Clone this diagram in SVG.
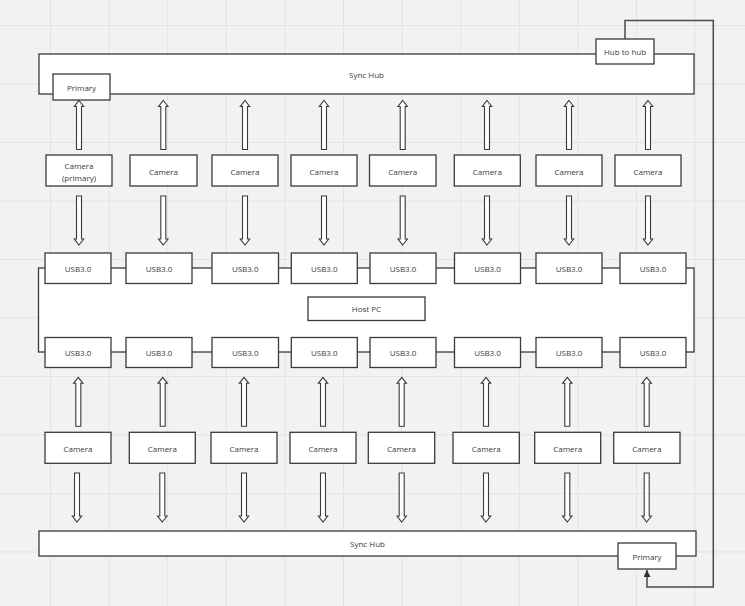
<svg xmlns="http://www.w3.org/2000/svg" xmlns:xlink="http://www.w3.org/1999/xlink" width="745" height="606" viewBox="0 0 745 606">
<style>
.box{fill:#ffffff;stroke:#3a3a3a;stroke-width:1.3}
.t{font-family:"Open Sans","Noto Sans",sans-serif;font-size:8px;fill:#3a3a3a;text-anchor:middle;dominant-baseline:central}
.arr{fill:#ffffff;stroke:#3a3a3a;stroke-width:1.1;stroke-linejoin:miter}
.link{fill:none;stroke:#4a4a4a;stroke-width:1.5}
</style>
<defs>
<pattern id="grid" patternUnits="userSpaceOnUse" x="50" y="25" width="58.6" height="58.5">
<path d="M0.5,0 V58.5 M0,0.5 H58.6" fill="none" stroke="#e3e3e3" stroke-width="1"/>
</pattern>
<path id="au" class="arr" d="M0,0 L4.7,6 L2.5,6 L2.5,49 L-2.5,49 L-2.5,6 L-4.7,6 Z"/>
<path id="ad" class="arr" d="M0,49 L4.7,43 L2.5,43 L2.5,0 L-2.5,0 L-2.5,43 L-4.7,43 Z"/>
<marker id="tri" viewBox="0 0 10 10" refX="10" refY="5" markerWidth="7" markerHeight="7" markerUnits="userSpaceOnUse" orient="auto">
<path d="M0,0 L10,5 L0,10 Z" fill="#333"/>
</marker>
</defs>
<rect x="0" y="0" width="745" height="606" fill="#f2f2f2"/>
<rect x="0" y="0" width="745" height="606" fill="url(#grid)"/>

<g id="host-pc">
<rect class="box" x="38.5" y="268" width="655.5" height="84"/>
<rect class="box" x="308" y="297" width="117" height="23.5"/>
<text class="t" x="366.5" y="308.7">Host PC</text>
</g>

<g id="sync-hub-top">
<rect class="box" x="39" y="54" width="655" height="40"/>
<text class="t" x="366.5" y="74">Sync Hub</text>
</g>
<g id="hub-to-hub">
<rect class="box" x="596" y="39" width="58" height="25"/>
<text class="t" x="625" y="51.5">Hub to hub</text>
</g>
<g id="primary-top">
<rect class="box" x="53" y="74" width="57" height="26"/>
<text class="t" x="81.5" y="87.5">Primary</text>
</g>

<g id="sync-hub-bottom">
<rect class="box" x="39" y="531" width="657" height="25"/>
<text class="t" x="367.5" y="543.7">Sync Hub</text>
</g>
<g id="primary-bottom">
<rect class="box" x="618" y="543" width="58" height="26"/>
<text class="t" x="647" y="556">Primary</text>
</g>

<g id="cam-top-1"><rect class="box" x="46" y="155" width="66" height="31"/><text class="t" x="79" y="165.3">Camera</text><text class="t" x="79" y="177.3">(primary)</text></g>
<g id="cam-top-2"><rect class="box" x="130" y="155" width="67" height="31"/><text class="t" x="163.5" y="171">Camera</text></g>
<g id="cam-top-3"><rect class="box" x="212" y="155" width="66" height="31"/><text class="t" x="245" y="171">Camera</text></g>
<g id="cam-top-4"><rect class="box" x="291" y="155" width="66" height="31"/><text class="t" x="324" y="171">Camera</text></g>
<g id="cam-top-5"><rect class="box" x="369.5" y="155" width="66.5" height="31"/><text class="t" x="402.7" y="171">Camera</text></g>
<g id="cam-top-6"><rect class="box" x="454.3" y="155" width="66" height="31"/><text class="t" x="487.3" y="171">Camera</text></g>
<g id="cam-top-7"><rect class="box" x="536" y="155" width="66" height="31"/><text class="t" x="569" y="171">Camera</text></g>
<g id="cam-top-8"><rect class="box" x="615" y="155" width="66" height="31"/><text class="t" x="648" y="171">Camera</text></g>

<g id="usb-top-1"><rect class="box" x="45" y="253" width="66" height="30.5"/><text class="t" x="78" y="268.5">USB3.0</text></g>
<g id="usb-top-2"><rect class="box" x="126" y="253" width="66" height="30.5"/><text class="t" x="159" y="268.5">USB3.0</text></g>
<g id="usb-top-3"><rect class="box" x="212" y="253" width="66.5" height="30.5"/><text class="t" x="245.2" y="268.5">USB3.0</text></g>
<g id="usb-top-4"><rect class="box" x="291.3" y="253" width="66" height="30.5"/><text class="t" x="324.3" y="268.5">USB3.0</text></g>
<g id="usb-top-5"><rect class="box" x="370" y="253" width="66" height="30.5"/><text class="t" x="403" y="268.5">USB3.0</text></g>
<g id="usb-top-6"><rect class="box" x="454.5" y="253" width="66" height="30.5"/><text class="t" x="487.5" y="268.5">USB3.0</text></g>
<g id="usb-top-7"><rect class="box" x="536" y="253" width="66" height="30.5"/><text class="t" x="569" y="268.5">USB3.0</text></g>
<g id="usb-top-8"><rect class="box" x="620" y="253" width="66" height="30.5"/><text class="t" x="653" y="268.5">USB3.0</text></g>

<g id="usb-bottom-1"><rect class="box" x="45" y="337.5" width="66" height="30"/><text class="t" x="78" y="352.5">USB3.0</text></g>
<g id="usb-bottom-2"><rect class="box" x="126" y="337.5" width="66" height="30"/><text class="t" x="159" y="352.5">USB3.0</text></g>
<g id="usb-bottom-3"><rect class="box" x="212" y="337.5" width="66.5" height="30"/><text class="t" x="245.2" y="352.5">USB3.0</text></g>
<g id="usb-bottom-4"><rect class="box" x="291.3" y="337.5" width="66" height="30"/><text class="t" x="324.3" y="352.5">USB3.0</text></g>
<g id="usb-bottom-5"><rect class="box" x="370" y="337.5" width="66" height="30"/><text class="t" x="403" y="352.5">USB3.0</text></g>
<g id="usb-bottom-6"><rect class="box" x="454.5" y="337.5" width="66" height="30"/><text class="t" x="487.5" y="352.5">USB3.0</text></g>
<g id="usb-bottom-7"><rect class="box" x="536" y="337.5" width="66" height="30"/><text class="t" x="569" y="352.5">USB3.0</text></g>
<g id="usb-bottom-8"><rect class="box" x="620" y="337.5" width="66" height="30"/><text class="t" x="653" y="352.5">USB3.0</text></g>

<g id="cam-bottom-1"><rect class="box" x="45" y="432.3" width="66" height="31"/><text class="t" x="78" y="448">Camera</text></g>
<g id="cam-bottom-2"><rect class="box" x="129.3" y="432.3" width="66" height="31"/><text class="t" x="162.3" y="448">Camera</text></g>
<g id="cam-bottom-3"><rect class="box" x="211" y="432.3" width="66" height="31"/><text class="t" x="244" y="448">Camera</text></g>
<g id="cam-bottom-4"><rect class="box" x="290" y="432.3" width="66" height="31"/><text class="t" x="323" y="448">Camera</text></g>
<g id="cam-bottom-5"><rect class="box" x="368.3" y="432.3" width="66.4" height="31"/><text class="t" x="401.5" y="448">Camera</text></g>
<g id="cam-bottom-6"><rect class="box" x="453" y="432.3" width="66.3" height="31"/><text class="t" x="486.2" y="448">Camera</text></g>
<g id="cam-bottom-7"><rect class="box" x="534.7" y="432.3" width="66" height="31"/><text class="t" x="567.7" y="448">Camera</text></g>
<g id="cam-bottom-8"><rect class="box" x="613.7" y="432.3" width="66.3" height="31"/><text class="t" x="646.8" y="448">Camera</text></g>

<g id="connectors">
<use xlink:href="#au" x="79" y="100.5"/>
<use xlink:href="#au" x="163.3" y="100.5"/>
<use xlink:href="#au" x="245" y="100.5"/>
<use xlink:href="#au" x="324" y="100.5"/>
<use xlink:href="#au" x="402.7" y="100.5"/>
<use xlink:href="#au" x="487" y="100.5"/>
<use xlink:href="#au" x="569" y="100.5"/>
<use xlink:href="#au" x="648" y="100.5"/>

<use xlink:href="#ad" x="79" y="196"/>
<use xlink:href="#ad" x="163.3" y="196"/>
<use xlink:href="#ad" x="245" y="196"/>
<use xlink:href="#ad" x="324" y="196"/>
<use xlink:href="#ad" x="402.7" y="196"/>
<use xlink:href="#ad" x="487" y="196"/>
<use xlink:href="#ad" x="569" y="196"/>
<use xlink:href="#ad" x="648" y="196"/>

<use xlink:href="#au" x="78.3" y="377.3"/>
<use xlink:href="#au" x="162.7" y="377.3"/>
<use xlink:href="#au" x="244" y="377.3"/>
<use xlink:href="#au" x="323" y="377.3"/>
<use xlink:href="#au" x="401.7" y="377.3"/>
<use xlink:href="#au" x="486" y="377.3"/>
<use xlink:href="#au" x="567.3" y="377.3"/>
<use xlink:href="#au" x="646.7" y="377.3"/>

<use xlink:href="#ad" x="77" y="473"/>
<use xlink:href="#ad" x="162.3" y="473"/>
<use xlink:href="#ad" x="244" y="473"/>
<use xlink:href="#ad" x="323" y="473"/>
<use xlink:href="#ad" x="401.7" y="473"/>
<use xlink:href="#ad" x="486" y="473"/>
<use xlink:href="#ad" x="567.3" y="473"/>
<use xlink:href="#ad" x="646.7" y="473"/>

<path class="link" d="M625,39 V20.5 H713.3 V587 H647 V570" marker-end="url(#tri)"/>
</g>
</svg>
